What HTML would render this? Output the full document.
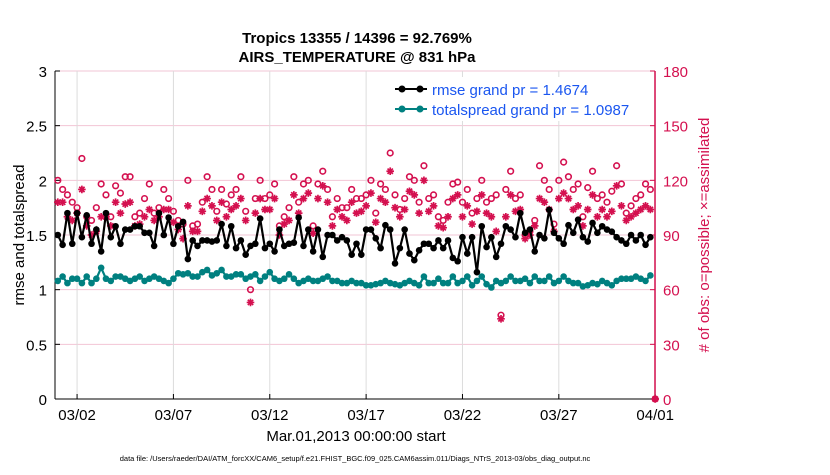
<!DOCTYPE html>
<html><head><meta charset="utf-8"><style>
body{margin:0;background:#fff;width:830px;height:470px;overflow:hidden;font-family:"Liberation Sans",sans-serif}
svg text{font-family:"Liberation Sans",sans-serif}
</style></head><body>
<svg id="chart" width="830" height="470" viewBox="0 0 830 470" xmlns="http://www.w3.org/2000/svg">
<g id="grid"></g>
<g id="axes"></g>
<g id="marks"></g>
<text x="357" y="43" font-size="15" font-weight="bold" text-anchor="middle">Tropics 13355 / 14396 = 92.769%</text>
<text x="357" y="62" font-size="15" font-weight="bold" text-anchor="middle">AIRS_TEMPERATURE @ 831 hPa</text>
<text transform="translate(24,235) rotate(-90)" font-size="15" text-anchor="middle">rmse and totalspread</text>
<text transform="translate(709,235) rotate(-90)" font-size="15" fill="#d4104f" text-anchor="middle"># of obs: o=possible; ×=assimilated</text>
<text x="356" y="441" font-size="15" text-anchor="middle">Mar.01,2013 00:00:00 start</text>
<text x="355" y="461" font-size="7.5" text-anchor="middle">data file: /Users/raeder/DAI/ATM_forcXX/CAM6_setup/f.e21.FHIST_BGC.f09_025.CAM6assim.011/Diags_NTrS_2013-03/obs_diag_output.nc</text>
<g>
<rect x="388" y="77" width="262" height="44" fill="#fff"/>
<line x1="395" y1="89" x2="427" y2="89" stroke="#000" stroke-width="2"/><circle cx="402" cy="89" r="3.5" fill="#000"/><circle cx="420" cy="89" r="3.5" fill="#000"/>
<text x="432" y="95" font-size="15" fill="#1a56f0">rmse grand pr = 1.4674</text>
<line x1="395" y1="109" x2="427" y2="109" stroke="#008080" stroke-width="2"/><circle cx="402" cy="109" r="3.5" fill="#008080"/><circle cx="420" cy="109" r="3.5" fill="#008080"/>
<text x="432" y="115" font-size="15" fill="#1a56f0">totalspread grand pr = 1.0987</text>
</g>
</svg>
<script>
const rmse=[1.50,1.41,1.70,1.42,1.70,1.48,1.68,1.42,1.55,1.35,1.70,1.48,1.58,1.42,1.55,1.55,1.58,1.58,1.52,1.52,1.40,1.70,1.50,1.66,1.42,1.58,1.62,1.28,1.45,1.40,1.45,1.45,1.44,1.45,1.60,1.40,1.58,1.38,1.45,1.32,1.40,1.42,1.65,1.38,1.42,1.35,1.55,1.40,1.42,1.43,1.66,1.40,1.55,1.35,1.55,1.30,1.50,1.50,1.45,1.48,1.45,1.32,
1.42,1.32,1.55,1.55,1.47,1.38,1.59,1.55,1.24,1.38,1.55,1.33,1.27,1.36,1.42,1.42,1.38,1.45,1.38,1.45,1.29,1.26,1.48,1.33,1.48,1.16,1.58,1.39,1.48,1.30,1.42,1.58,1.55,1.48,1.70,1.52,1.55,1.35,1.50,1.47,1.73,1.52,1.47,1.42,1.59,1.52,1.64,1.48,1.44,1.61,1.52,1.58,1.55,1.53,1.48,1.45,1.42,1.50,1.45,1.50,1.41,1.48];
const spread=[1.08,1.12,1.06,1.10,1.10,1.06,1.12,1.06,1.10,1.20,1.10,1.08,1.12,1.12,1.10,1.08,1.10,1.12,1.08,1.10,1.12,1.10,1.08,1.06,1.10,1.15,1.14,1.15,1.12,1.12,1.16,1.18,1.13,1.15,1.18,1.12,1.12,1.14,1.14,1.10,1.12,1.14,1.08,1.12,1.16,1.10,1.08,1.10,1.14,1.10,1.06,1.08,1.10,1.08,1.08,1.10,1.12,1.08,1.08,1.06,1.06,1.08,
1.06,1.06,1.04,1.04,1.05,1.06,1.08,1.06,1.05,1.04,1.06,1.08,1.06,1.04,1.12,1.06,1.06,1.10,1.06,1.06,1.12,1.06,1.08,1.12,1.04,1.08,1.12,1.05,1.02,1.08,1.06,1.08,1.12,1.08,1.08,1.10,1.06,1.12,1.08,1.08,1.12,1.06,1.08,1.12,1.08,1.06,1.06,1.03,1.04,1.06,1.05,1.08,1.06,1.04,1.08,1.10,1.10,1.10,1.12,1.10,1.08,1.13];
const nPossible=[120,115,112,108,105,132,100,98,105,118,112,100,117,113,122,122,100,102,110,118,102,105,115,110,103,98,96,120,95,96,108,122,115,103,115,107,112,115,122,103,60,110,120,110,112,118,95,100,105,122,108,118,120,95,118,125,115,100,110,105,105,115,110,110,112,120,102,118,115,135,112,104,110,122,120,108,128,110,112,100,98,108,118,119,108,115,102,110,120,108,110,112,46,115,125,110,112,90,92,98,128,120,115,96,120,130,122,115,118,100,116,125,110,112,108,114,128,118,102,106,110,112,118,115,0];
const nAssim=[108,108,100,98,102,115,95,90,92,100,100,95,108,102,107,108,95,96,100,104,98,100,104,104,97,93,88,106,92,92,103,110,106,98,108,100,104,106,110,98,53,102,110,104,104,110,90,96,98,112,102,110,113,91,110,117,108,95,104,100,98,108,102,103,106,113,97,110,108,125,105,100,104,114,112,102,120,103,106,95,94,100,110,112,100,106,96,103,112,102,100,92,44,100,112,103,104,88,90,95,110,108,104,92,110,113,110,104,106,95,104,112,100,104,100,103,117,106,98,100,102,104,106,104,0];
const leftTicks=[0,0.5,1,1.5,2,2.5,3];
const rightTicks=[0,30,60,90,120,150,180];
const dateTicks=[1,6,11,16,21,26,31];
const dateLabels=["03/02","03/07","03/12","03/17","03/22","03/27","04/01"];

const NS="http://www.w3.org/2000/svg";
const X0=55,X1=655,Y0=399,Y1=71;
const xS=d=>57.8+d*19.27;
const yL=v=>Y0-(v/3)*(Y0-Y1);
const yR=v=>Y0-(v/180)*(Y0-Y1);
function mk(p,t,a){const e=document.createElementNS(NS,t);for(const k in a)e.setAttribute(k,a[k]);p.appendChild(e);return e;}
const grid=document.getElementById('grid'),axes=document.getElementById('axes'),marks=document.getElementById('marks');
leftTicks.forEach(v=>{
  const l=mk(grid,'line',{x1:X0,x2:X1,y1:yL(v),y2:yL(v),stroke:'#f2c4d4','stroke-width':1});
  
  
  const t=mk(axes,'text',{x:X0-8,y:yL(v)+6,'font-size':15,'text-anchor':'end'});t.textContent=v;
  
  
  mk(axes,'line',{x1:X0,x2:X0+5,y1:yL(v),y2:yL(v),stroke:'#000'});
});
rightTicks.forEach(v=>{
  const t=mk(axes,'text',{x:X1+8,y:yR(v)+6,'font-size':15,fill:'#d4104f'});t.textContent=v;
  
  
  mk(axes,'line',{x1:X1-5,x2:X1,y1:yR(v),y2:yR(v),stroke:'#d4104f'});
});
dateTicks.forEach((d,i)=>{
  const x=xS(d);
  const l=mk(grid,'line',{x1:x,x2:x,y1:Y1,y2:Y0,stroke:'#dcdcdc'});
  
  
  mk(axes,'line',{x1:x,x2:x,y1:Y0,y2:Y0-5,stroke:'#000'});
  const t=mk(axes,'text',{x:x,y:Y0+21,'font-size':15,'text-anchor':'middle'});t.textContent=dateLabels[i];
  
  
});
mk(axes,'line',{x1:X0,x2:X0,y1:Y1,y2:Y0,stroke:'#000'});
mk(axes,'line',{x1:X0,x2:X1,y1:Y0,y2:Y0,stroke:'#000'});
mk(axes,'line',{x1:X1,x2:X1,y1:Y1,y2:Y0,stroke:'#d4104f','stroke-width':1.5});
const nObs=nPossible.length;
nPossible.forEach((v,i)=>{
  const d=i*31/(nObs-1);
  const c=mk(marks,'circle',{cx:xS(d),cy:yR(v),r:2.8,fill:'none',stroke:'#d4104f','stroke-width':1.6});
  
  
});
nAssim.forEach((v,i)=>{
  const d=i*31/(nObs-1);
  const x=xS(d),y=yR(v),r=3.8;
  const p=`M${x-r},${y}H${x+r}M${x},${y-r}V${y+r}M${x-r*0.7},${y-r*0.7}L${x+r*0.7},${y+r*0.7}M${x-r*0.7},${y+r*0.7}L${x+r*0.7},${y-r*0.7}`;
  const s=mk(marks,'path',{d:p,stroke:'#d4104f','stroke-width':1.7,fill:'none'});
  
  
});
function series(arr,col,name){
  const pts=arr.map((v,i)=>xS(i*0.25)+','+yL(v)).join(' ');
  const pl=mk(marks,'polyline',{points:pts,fill:'none',stroke:col,'stroke-width':2.2});
  
  
  arr.forEach((v,i)=>{
    const c=mk(marks,'circle',{cx:xS(i*0.25),cy:yL(v),r:3.3,fill:col});
    
    
  });
}
series(spread.slice(0,rmse.length),'#008080','totalspread');
series(rmse,'#000','rmse');
</script>
</body></html>
